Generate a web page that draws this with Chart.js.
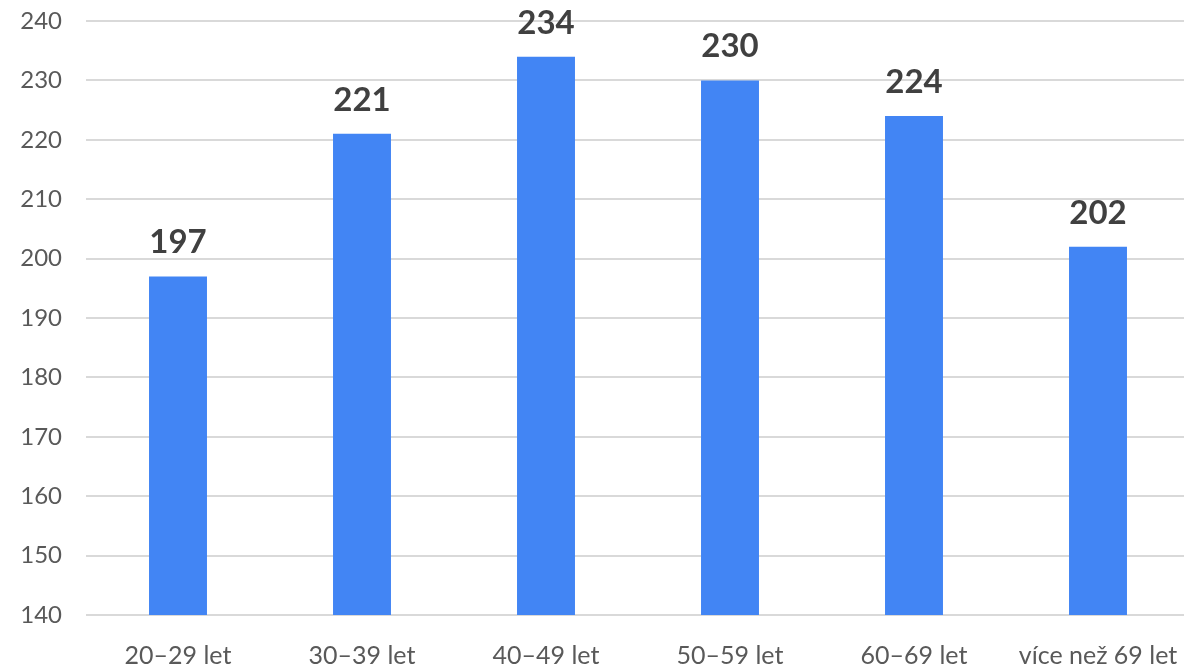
<!DOCTYPE html>
<html>
<head>
<meta charset="utf-8">
<script src="https://cdn.jsdelivr.net/npm/chart.js@4.4.1/dist/chart.umd.min.js"></script>
<style>
  html, body { margin: 0; padding: 0; background: #ffffff; overflow: hidden; }
  #wrap { position: relative; width: 1190px; height: 667px; }
</style>
</head>
<body>
<div id="wrap"><canvas id="chart"></canvas></div>
<script>
// Age groups and their values
const categories = ['20–29 let', '30–39 let', '40–49 let', '50–59 let', '60–69 let', 'více než 69 let'];
const values = [197, 221, 234, 230, 224, 202];
const yMin = 140;
const yMax = 240;
const yStep = 10;

// Value labels above each bar
const barValueLabels = {
  id: 'barValueLabels',
  afterDatasetsDraw(chart) {
    const ctx = chart.ctx;
    const meta = chart.getDatasetMeta(0);
    ctx.save();
    ctx.font = 'bold 33px Lato, "Open Sans", sans-serif';
    ctx.fillStyle = '#404040';
    ctx.textAlign = 'center';
    ctx.textBaseline = 'alphabetic';
    meta.data.forEach((bar, i) => {
      ctx.fillText(String(values[i]), bar.x, bar.y - 23);
    });
    ctx.restore();
  }
};

new Chart(document.getElementById('chart'), {
  type: 'bar',
  data: {
    labels: categories,
    datasets: [{
      data: values,
      backgroundColor: '#4285f4',
      borderWidth: 0,
      categoryPercentage: 1,
      barPercentage: 0.315
    }]
  },
  options: {
    responsive: true,
    maintainAspectRatio: false,
    animation: false,
    layout: { padding: { top: 0, right: 0, bottom: 0, left: 0 } },
    plugins: { legend: { display: false }, tooltip: { enabled: false } },
    scales: {
      x: {
        grid: { display: false },
        border: { display: false },
        ticks: {
          color: '#595959',
          font: { family: 'Lato, "Open Sans", sans-serif', size: 25 },
          padding: 18,
          maxRotation: 0,
          autoSkip: false
        },
        afterFit(scale) {
          scale.height = 52;
          scale.paddingLeft = 0;
          scale.paddingRight = 0;
        }
      },
      y: {
        min: yMin,
        max: yMax,
        grid: { color: '#d9d9d9', lineWidth: 2, drawTicks: false },
        border: { display: false },
        ticks: {
          stepSize: yStep,
          color: '#595959',
          font: { family: 'Lato, "Open Sans", sans-serif', size: 24 },
          padding: 24
        },
        afterFit(scale) {
          scale.width = 86;
          scale.paddingTop = 21;
          scale.paddingBottom = 0;
        }
      }
    }
  },
  plugins: [barValueLabels]
});
</script>
</body>
</html>
